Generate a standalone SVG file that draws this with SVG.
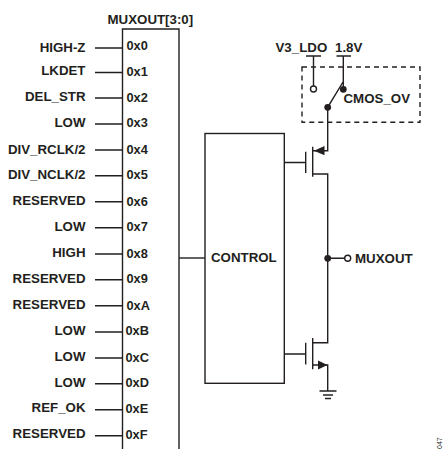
<svg xmlns="http://www.w3.org/2000/svg" width="445" height="449" viewBox="0 0 445 449">
<style>
text{font-family:"Liberation Sans",Arial,sans-serif;font-weight:700;font-size:13.3px;fill:#231f20}
.l{text-anchor:end}
.h{font-size:12.8px}
path,line,rect{fill:none;stroke:#231f20;stroke-width:1.4}
.d{fill:#231f20;stroke:none}
circle.o{fill:#fff;stroke:#231f20;stroke-width:1.4}
</style>
<rect width="445" height="449" style="fill:#fff;stroke:none"/>
<g id="mux">
<path d="M122.500 449V29H179V449"/>
<text x="107.500" y="24">MUXOUT[3:0]</text>
</g>
<g id="inputs">
<text class="l" x="85.500" y="52">HIGH-Z</text><text class="h" x="126.500" y="50">0x0</text>
<text class="l" x="85.500" y="75">LKDET</text><text class="h" x="126.500" y="76">0x1</text>
<text class="l" x="85.500" y="101">DEL_STR</text><text class="h" x="126.500" y="102">0x2</text>
<text class="l" x="85.500" y="127">LOW</text><text class="h" x="126.500" y="127">0x3</text>
<text class="l" x="85.500" y="153.500">DIV_RCLK/2</text><text class="h" x="126.500" y="154">0x4</text>
<text class="l" x="85.500" y="179">DIV_NCLK/2</text><text class="h" x="126.500" y="179">0x5</text>
<text class="l" x="85.500" y="205">RESERVED</text><text class="h" x="126.500" y="206">0x6</text>
<text class="l" x="85.500" y="231">LOW</text><text class="h" x="126.500" y="231">0x7</text>
<text class="l" x="85.500" y="257">HIGH</text><text class="h" x="126.500" y="258">0x8</text>
<text class="l" x="85.500" y="283">RESERVED</text><text class="h" x="126.500" y="283">0x9</text>
<text class="l" x="85.500" y="309">RESERVED</text><text class="h" x="126.500" y="310">0xA</text>
<text class="l" x="85.500" y="335">LOW</text><text class="h" x="125.500" y="335">0xB</text>
<text class="l" x="85.500" y="361">LOW</text><text class="h" x="125.500" y="361.500">0xC</text>
<text class="l" x="85.500" y="387">LOW</text><text class="h" x="125.500" y="387">0xD</text>
<text class="l" x="85.500" y="412">REF_OK</text><text class="h" x="125.500" y="413">0xE</text>
<text class="l" x="85.500" y="438">RESERVED</text><text class="h" x="125.500" y="439">0xF</text>
</g>
<g id="control">
<rect x="205" y="133.500" width="79.300" height="249.800"/>
<text x="211" y="262">CONTROL</text>
</g>
<g id="cmos_ov">
<rect x="302" y="67" width="118" height="55.300" stroke-dasharray="5 4"/>
<text x="343.500" y="103">CMOS_OV</text>
</g>
<g id="supplies">
<text x="275.500" y="52">V3_LDO</text>
<text x="335" y="52">1.8V</text>
</g>
<g id="muxout_pin">
<text x="355" y="263">MUXOUT</text>
</g>
<g id="connectors">
<path d="M95 48H122.500M95 72.500H122.500M95 98H122.500M95 124H122.500M95 150H122.500M95 175.700H122.500M95 201.700H122.500M95 227.700H122.500M95 254H122.500M95 279.700H122.500M95 305.700H122.500M95 332H122.500M95 358H122.500M95 383.700H122.500M95 409.700H122.500M95 435.700H122.500"/>
<path d="M179 258H205"/>
<path d="M306 56H321M313.500 56V86M336.500 56H351M343.300 56V89M343 82L327.700 107.300V150.700H313M284.300 162.500H305.700M305.700 151.700V173M312.700 146.700V176.700M312.700 174H327.700V342.700H312.700M327.700 258.300H345M284.300 354H305.700M305.700 342.700V364.500M312.700 338V369.300M312.700 365H327.700V391M319.500 391H336.500M323 395H333M325 398.500H331"/>
<circle class="o" cx="313.500" cy="89" r="3"/>
<circle class="d" cx="343.300" cy="89.300" r="3.400"/>
<circle class="d" cx="327.700" cy="107.300" r="3.400"/>
<circle class="d" cx="327.700" cy="258.300" r="3.400"/>
<circle class="o" cx="347.700" cy="258.300" r="3"/>
<polygon class="d" points="314,150.700 324.500,146 324.500,155.200"/>
<polygon class="d" points="327.500,365 318,360.500 318,369.500"/>
</g>
<text x="0" y="0" transform="translate(442 449) rotate(-90)" style="font-size:7px;font-weight:400">047</text>
</svg>
